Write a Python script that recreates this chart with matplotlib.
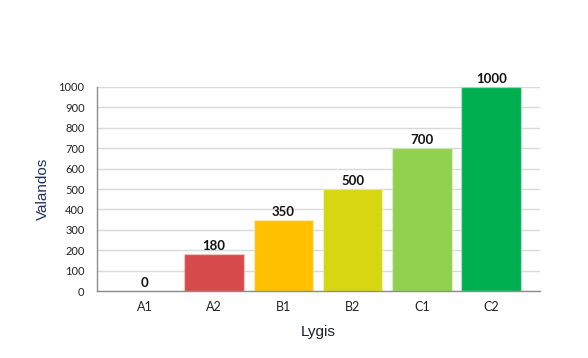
import matplotlib
matplotlib.use("Agg")
import matplotlib.pyplot as plt

# ---------------------------------------------------------------- data ----
levels = ["A1", "A2", "B1", "B2", "C1", "C2"]
hours = [0, 180, 350, 500, 700, 1000]
colors = ["#c00000", "#d64a4b", "#ffc000", "#d6d612", "#92d050", "#00b050"]
yticks = list(range(0, 1001, 100))

# ------------------------------------------------------------- plotting ----
fig = plt.figure(figsize=(5.88, 3.58), dpi=100)
ax = fig.add_axes([0.165, 0.187, 0.753, 0.570])

x = range(len(levels))
bars = ax.bar(x, hours, width=0.86, color=colors,
              edgecolor=(1, 1, 1, 0.35), linewidth=1, zorder=3)
for b, v in zip(bars, hours):
    ax.text(b.get_x() + b.get_width() / 2, v + 10, str(v), ha="center",
            va="bottom", fontsize=9.5, fontweight="bold", family="Lato",
            color="#111111", clip_on=False)

ax.set_xlim(-0.69, 5.7)
ax.set_ylim(0, 1000)
ax.set_yticks(yticks)
ax.set_xticks(list(x))
ax.set_xticklabels(levels)
ax.grid(axis="y", color="#d9d9d9", lw=1, zorder=0)
ax.tick_params(length=0, labelsize=8, labelcolor="#222222")
ax.tick_params(axis="y", pad=9)
ax.tick_params(axis="x", pad=7, labelsize=9)
for t in ax.get_xticklabels() + ax.get_yticklabels():
    t.set_family("Lato")

for s in ("top", "right"):
    ax.spines[s].set_visible(False)
for s in ("left", "bottom"):
    ax.spines[s].set_color("#8c8c8c")
    ax.spines[s].set_linewidth(1)
    ax.spines[s].set_zorder(4)

ax.set_ylabel("Valandos", family="Liberation Sans", fontsize=11,
              color="#1f2f66", labelpad=6)
ax.set_xlabel("Lygis", family="Liberation Sans", fontsize=11,
              color="#1a1f33", labelpad=9)

fig.savefig("out.png", dpi=100)
